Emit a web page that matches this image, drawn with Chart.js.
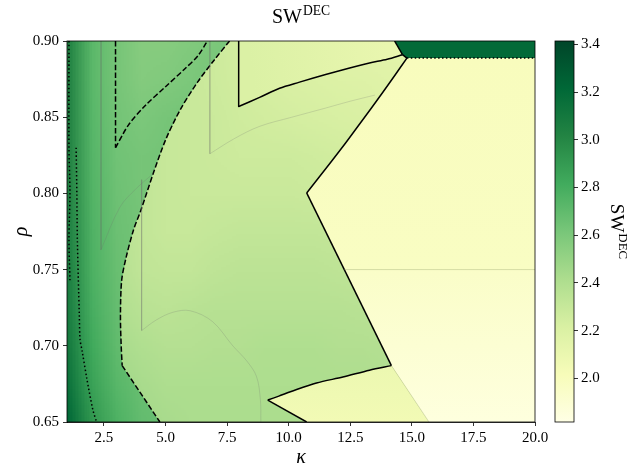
<!DOCTYPE html>
<html><head><meta charset="utf-8">
<script src="https://cdn.jsdelivr.net/npm/chart.js@4/dist/chart.umd.min.js"></script>
<style>html,body{margin:0;padding:0;background:#fff;}</style>
</head><body>
<canvas id="c" width="634" height="476"></canvas>
<script>
// ---------- data ----------
const kappaSamples = [1,2,3,4,5,6,7,8,9,10,11,12,13,14,15,16,17,18,19,20];
const rhoSamples = [0.90,0.875,0.85,0.825,0.80,0.775,0.75,0.725,0.70,0.675,0.65];
// SW^DEC field right of the main dashed contour (rows: rho top->bottom, cols: kappa)
const mainField = [
 [2.45,2.42,2.38,2.34,2.31,2.29,2.27,2.24,2.21,2.19,2.17,2.16,2.15,2.14,2.13,2.12,2.12,2.12,2.12,2.12],
 [2.45,2.42,2.38,2.34,2.31,2.29,2.27,2.25,2.23,2.21,2.20,2.19,2.18,2.17,2.16,2.15,2.15,2.15,2.15,2.15],
 [2.45,2.42,2.38,2.33,2.30,2.29,2.28,2.26,2.25,2.24,2.23,2.22,2.21,2.19,2.18,2.17,2.17,2.17,2.17,2.17],
 [2.45,2.42,2.37,2.32,2.30,2.29,2.28,2.27,2.27,2.27,2.26,2.25,2.24,2.22,2.20,2.19,2.19,2.19,2.19,2.19],
 [2.45,2.42,2.37,2.32,2.30,2.29,2.29,2.29,2.29,2.29,2.28,2.27,2.26,2.25,2.23,2.21,2.21,2.21,2.21,2.21],
 [2.45,2.42,2.37,2.32,2.30,2.30,2.31,2.32,2.32,2.32,2.32,2.31,2.30,2.28,2.26,2.24,2.24,2.24,2.24,2.24],
 [2.45,2.42,2.38,2.33,2.32,2.32,2.34,2.35,2.35,2.35,2.35,2.34,2.33,2.31,2.29,2.27,2.27,2.27,2.27,2.27],
 [2.47,2.44,2.40,2.36,2.35,2.36,2.37,2.37,2.37,2.37,2.37,2.37,2.36,2.35,2.32,2.30,2.30,2.30,2.30,2.30],
 [2.50,2.47,2.43,2.40,2.38,2.38,2.39,2.39,2.40,2.40,2.40,2.39,2.39,2.38,2.35,2.33,2.33,2.33,2.33,2.33],
 [2.52,2.49,2.46,2.43,2.41,2.41,2.41,2.41,2.41,2.41,2.41,2.41,2.41,2.40,2.37,2.35,2.35,2.35,2.35,2.35],
 [2.55,2.52,2.48,2.45,2.43,2.42,2.42,2.42,2.42,2.42,2.42,2.42,2.42,2.41,2.38,2.37,2.37,2.37,2.37,2.37]
];
// field left of the main dashed contour
const leftKappaSamples = [1,2,3,4,5,6,7,8];
const leftField = [
 [3.04,2.72,2.62,2.56,2.56,2.58,2.60,2.61],
 [3.04,2.72,2.62,2.57,2.58,2.60,2.62,2.62],
 [3.04,2.73,2.63,2.60,2.62,2.63,2.63,2.63],
 [3.04,2.74,2.64,2.62,2.63,2.63,2.63,2.63],
 [3.04,2.75,2.65,2.62,2.63,2.63,2.63,2.63],
 [3.05,2.76,2.66,2.63,2.63,2.63,2.63,2.63],
 [3.06,2.77,2.67,2.63,2.63,2.63,2.63,2.63],
 [3.07,2.79,2.68,2.64,2.64,2.64,2.64,2.64],
 [3.10,2.82,2.70,2.65,2.65,2.65,2.65,2.65],
 [3.15,2.86,2.73,2.67,2.66,2.66,2.66,2.66],
 [3.22,2.92,2.77,2.69,2.67,2.67,2.67,2.67]
];
// contour lines [kappa, rho]
const lineD1Vert = [[2.97,0.90],[2.97,0.830]];
const lineD1Curve = [[2.97,0.830],[3.5,0.845],[4.2,0.858],[5.0,0.870],[5.8,0.882],[6.3,0.890],[6.7,0.90]];
const lineD2Curve = [[7.6,0.90],[7.0,0.888],[6.3,0.873],[5.6,0.855],[5.0,0.835],[4.5,0.813],[4.0,0.789],[3.7,0.776],[3.4,0.758],[3.22,0.743],[3.17,0.72],[3.2,0.70],[3.24,0.687]];
const lineD2Low = [[3.24,0.687],[4.77,0.65]];
const lineDot1 = [[1.08,0.90],[1.08,0.83],[1.12,0.80],[1.08,0.77],[1.12,0.743]];
const lineDot2 = [[1.37,0.830],[1.40,0.80],[1.42,0.77],[1.50,0.72],[1.53,0.704],[1.61,0.697],[1.81,0.678],[2.05,0.658],[2.2,0.65]];
const lineAVert = [[7.97,0.90],[7.97,0.857]];
const lineACurve = [[7.97,0.857],[8.82,0.863],[9.63,0.869],[10.44,0.873],[11.5,0.878],[12.4,0.882],[13.28,0.8856],[14.0,0.888],[14.62,0.891]];
const lineJoin = [[14.62,0.891],[14.80,0.8888]];
const lineBCurve = [[14.80,0.8888],[14.32,0.8777],[13.83,0.8665],[13.33,0.8554],[12.82,0.8442],[12.31,0.8331],[11.78,0.8219],[11.24,0.8108],[10.73,0.8003]];
const lineBLow = [[10.73,0.8003],[14.17,0.687]];
const lineWedgeTop = [[14.17,0.687],[13.28,0.684],[12.2,0.6795],[11.13,0.6756],[10.1,0.670],[9.6,0.667],[9.15,0.6644]];
const lineWedgeLow = [[9.15,0.6644],[10.73,0.65]];
const lineRectEdge = [[14.3,0.90],[14.62,0.891]];
const lineRectBottom = [[14.80,0.8888],[20,0.8888]];
const faintAVert = [[2.38,0.90],[2.38,0.763]];
const faintACurve = [[2.38,0.763],[3.15,0.791],[3.8,0.803],[4.5,0.813]];
const faintBVert = [[4.03,0.809],[4.03,0.710]];
const faintBArc = [[4.03,0.710],[4.63,0.717],[5.3,0.722],[6.0,0.723],[6.9,0.716],[7.73,0.70],[8.3,0.69],[8.69,0.68],[8.85,0.665],[8.87,0.65]];
const faintCVert = [[6.8,0.90],[6.8,0.826]];
const faintCCurve = [[6.8,0.826],[7.8,0.836],[8.82,0.844],[10.13,0.850],[11.5,0.856],[12.5,0.8605],[13.5,0.8645]];
const faintD = [[12.25,0.75],[20,0.75]];
const faintE = [[14.17,0.687],[15.7,0.65]];
// regions bounded by the solid contours [kappa, rho] and their value gradients [kappa, rho, value]
const regionUpper = [[7.97,0.92],[7.97,0.857],[8.82,0.863],[9.63,0.869],[10.44,0.873],[11.5,0.878],[12.4,0.882],[13.28,0.8856],[14.0,0.888],[14.62,0.891],[14.3,0.90],[14.3,0.92]];
const regionUpperGrad = [[8.5,0.88,2.20],[14.0,0.895,2.11]];
const regionRect = [[14.3,0.92],[14.3,0.90],[14.62,0.891],[14.80,0.8888],[20.5,0.8888],[20.5,0.92]];
const regionRectGrad = [[17,0.90,3.20],[17,0.889,3.20]];
const regionRightUp = [[14.80,0.8888],[20.5,0.8888],[20.5,0.75],[12.25,0.75],[10.73,0.8003],[11.24,0.8108],[11.78,0.8219],[12.31,0.8331],[12.82,0.8442],[13.33,0.8554],[13.83,0.8665],[14.32,0.8777]];
const regionRightUpGrad = [[16,0.889,2.00],[16,0.75,1.97]];
const regionRightLow = [[12.25,0.75],[20.5,0.75],[20.5,0.63],[16.5,0.63],[14.17,0.687]];
const regionRightLowGrad = [[16,0.75,1.95],[16,0.65,1.85]];
const regionWedge = [[14.17,0.687],[13.28,0.684],[12.2,0.6795],[11.13,0.6756],[10.1,0.670],[9.6,0.667],[9.15,0.6644],[10.73,0.65],[12.9,0.63],[16.5,0.63]];
const regionWedgeGrad = [[12,0.685,2.09],[12,0.65,2.05]];
// ticks
const xTicks = [2.5,5.0,7.5,10.0,12.5,15.0,17.5,20.0];
const yTicks = [0.65,0.70,0.75,0.80,0.85,0.90];
const cbarTicks = [2.0,2.2,2.4,2.6,2.8,3.0,3.2,3.4];
const vMin = 1.817, vMax = 3.414;
const titleMain = 'SW', titleSup = 'DEC';

// ---------- colour map (YlGn) ----------
const YlGn = ['#ffffe5','#f7fcb9','#d9f0a3','#addd8e','#78c679','#41ab5d','#238443','#006837','#004529']
  .map(h => [parseInt(h.slice(1,3),16),parseInt(h.slice(3,5),16),parseInt(h.slice(5,7),16)]);
function cmapRGB(v){
  let t = (v - vMin) / (vMax - vMin); t = Math.max(0, Math.min(1, t));
  const s = t * 8, i = Math.min(7, Math.floor(s)), f = s - i;
  return [0,1,2].map(k => Math.round(YlGn[i][k] + (YlGn[i+1][k]-YlGn[i][k]) * f));
}
function cmap(v){ const c = cmapRGB(v); return `rgb(${c[0]},${c[1]},${c[2]})`; }

function fieldImage(field){
  const rows = field.length, cols = field[0].length;
  const c = document.createElement('canvas'); c.width = cols; c.height = rows;
  const g = c.getContext('2d'); const img = g.createImageData(cols, rows);
  for (let r = 0; r < rows; r++) for (let k = 0; k < cols; k++) {
    const col = cmapRGB(field[r][k]); const o = (r*cols + k) * 4;
    img.data[o] = col[0]; img.data[o+1] = col[1]; img.data[o+2] = col[2]; img.data[o+3] = 255;
  }
  g.putImageData(img, 0, 0); return c;
}
function drawField(ctx, xs, ys, field, kap){
  const img = fieldImage(field);
  const dk = kap[1] - kap[0], dr = rhoSamples[0] - rhoSamples[1];
  const x0 = xs.getPixelForValue(kap[0] - dk/2), x1 = xs.getPixelForValue(kap[kap.length-1] + dk/2);
  const y0 = ys.getPixelForValue(rhoSamples[0] + dr/2), y1 = ys.getPixelForValue(rhoSamples[rhoSamples.length-1] - dr/2);
  ctx.imageSmoothingEnabled = true; ctx.imageSmoothingQuality = 'low';
  ctx.drawImage(img, x0, y0, x1 - x0, y1 - y0);
}
function polyPath(ctx, xs, ys, pts){
  ctx.beginPath();
  pts.forEach((p, i) => { const X = xs.getPixelForValue(p[0]), Y = ys.getPixelForValue(p[1]); i ? ctx.lineTo(X, Y) : ctx.moveTo(X, Y); });
  ctx.closePath();
}
function fillRegion(ctx, xs, ys, pts, grad){
  polyPath(ctx, xs, ys, pts);
  const g = ctx.createLinearGradient(xs.getPixelForValue(grad[0][0]), ys.getPixelForValue(grad[0][1]), xs.getPixelForValue(grad[1][0]) + 0.01, ys.getPixelForValue(grad[1][1]) + 0.01);
  g.addColorStop(0, cmap(grad[0][2])); g.addColorStop(1, cmap(grad[1][2]));
  ctx.fillStyle = g; ctx.fill();
}
function drawSupText(ctx, main, sup, x, y, align, size){
  ctx.font = `${size}px "Liberation Serif", serif`;
  const w1 = ctx.measureText(main).width;
  ctx.font = `${size*0.68}px "Liberation Serif", serif`;
  const w2 = ctx.measureText(sup).width;
  const total = w1 + 1 + w2;
  const sx = align === 'center' ? x - total/2 : x;
  ctx.textAlign = 'left'; ctx.textBaseline = 'alphabetic'; ctx.fillStyle = '#000';
  ctx.font = `${size}px "Liberation Serif", serif`; ctx.fillText(main, sx, y);
  ctx.font = `${size*0.68}px "Liberation Serif", serif`; ctx.fillText(sup, sx + w1 + 1, y - size*0.42);
}

const heatPlugin = {
  id: 'heat',
  beforeDatasetsDraw(chart){
    const {ctx, chartArea: a, scales: {x, y}} = chart;
    ctx.save();
    ctx.beginPath(); ctx.rect(a.left, a.top, a.width, a.height); ctx.clip();
    drawField(ctx, x, y, mainField, kappaSamples);
    ctx.save();
    polyPath(ctx, x, y, [[0.5,0.92],[7.7,0.92]].concat(lineD2Curve).concat(lineD2Low).concat([[5.0,0.62],[0.5,0.62]]));
    ctx.clip();
    drawField(ctx, x, y, leftField, leftKappaSamples);
    ctx.restore();
    fillRegion(ctx, x, y, regionUpper, regionUpperGrad);
    fillRegion(ctx, x, y, regionRightUp, regionRightUpGrad);
    fillRegion(ctx, x, y, regionRightLow, regionRightLowGrad);
    fillRegion(ctx, x, y, regionWedge, regionWedgeGrad);
    fillRegion(ctx, x, y, regionRect, regionRectGrad);
    ctx.restore();
  },
  afterDraw(chart){
    const {ctx, chartArea: a, scales: {cbar}} = chart;
    ctx.save();
    ctx.strokeStyle = '#000'; ctx.lineWidth = 0.8;
    ctx.strokeRect(a.left, a.top, a.width, a.height);
    const bx1 = cbar.left, bx0 = bx1 - 19;
    const yb = cbar.getPixelForValue(vMin), yt = cbar.getPixelForValue(vMax);
    const g = ctx.createLinearGradient(0, yb, 0, yt);
    YlGn.forEach((c, i) => g.addColorStop(i/8, `rgb(${c[0]},${c[1]},${c[2]})`));
    ctx.fillStyle = g; ctx.fillRect(bx0, yt, bx1 - bx0, yb - yt);
    ctx.strokeRect(bx0, yt, bx1 - bx0, yb - yt);
    drawSupText(ctx, titleMain, titleSup, (a.left + a.right)/2, 23, 'center', 20);
    ctx.translate(611, (yt + yb)/2); ctx.rotate(Math.PI/2);
    drawSupText(ctx, titleMain, titleSup, 0, 0, 'center', 19);
    ctx.restore();
  }
};

const toXY = pts => pts.map(p => ({x: p[0], y: p[1]}));
const ln = (pts, o) => Object.assign({data: toXY(pts), showLine: true, pointRadius: 0, pointHoverRadius: 0, fill: false,
  borderColor: '#000', borderWidth: 1.5, tension: 0, borderCapStyle: 'butt', borderJoinStyle: 'round'}, o);
const smooth = {tension: 0.3};
const faint = {borderColor: 'rgba(110,110,110,0.28)', borderWidth: 0.8};
const faintS = {borderColor: 'rgba(110,110,110,0.28)', borderWidth: 0.8, tension: 0.35};
const faintY = {borderColor: 'rgba(170,170,120,0.35)', borderWidth: 1};
const dashed = {borderDash: [5.5, 2.4]};
const dashedS = {borderDash: [5.5, 2.4], tension: 0.3};
const dotted = {borderDash: [1.5, 2.4]};
const dottedS = {borderDash: [1.5, 2.4], tension: 0.3};

const tickFont = {family: '"Liberation Serif", serif', size: 15};
new Chart(document.getElementById('c'), {
  type: 'scatter',
  data: { datasets: [
    ln(faintAVert, faint), ln(faintACurve, faintS), ln(faintBVert, faint), ln(faintBArc, faintS),
    ln(faintCVert, faint), ln(faintCCurve, faintS), ln(faintD, faintY), ln(faintE, faintY),
    ln(lineD1Vert, dashed), ln(lineD1Curve, dashedS), ln(lineD2Curve, dashedS), ln(lineD2Low, dashed),
    ln(lineDot1, dottedS), ln(lineDot2, dottedS),
    ln(lineAVert, {}), ln(lineACurve, smooth), ln(lineJoin, {}), ln(lineBCurve, smooth), ln(lineBLow, {}),
    ln(lineWedgeTop, smooth), ln(lineWedgeLow, {}), ln(lineRectEdge, {}), ln(lineRectBottom, dotted)
  ]},
  options: {
    responsive: false, animation: false, devicePixelRatio: 1,
    layout: {padding: {top: 41, left: 0, right: 0, bottom: 0}},
    plugins: {legend: {display: false}, tooltip: {enabled: false}, title: {display: false}},
    scales: {
      x: {
        type: 'linear', min: 1, max: 20, position: 'bottom',
        afterBuildTicks: s => { s.ticks = xTicks.map(v => ({value: v})); },
        afterFit: s => { s.height = 54; },
        ticks: {callback: v => Number(v).toFixed(1), font: tickFont, color: '#000', padding: 3, maxRotation: 0, autoSkip: false},
        grid: {drawOnChartArea: false, drawTicks: true, tickLength: 4, tickColor: '#000', tickWidth: 0.8},
        border: {display: true, color: '#000', width: 0.8},
        title: {display: true, text: 'κ', color: '#000', font: {family: '"Liberation Serif", serif', style: 'italic', size: 20}, padding: {top: 0, bottom: 6}}
      },
      y: {
        type: 'linear', min: 0.65, max: 0.90, position: 'left',
        afterBuildTicks: s => { s.ticks = yTicks.map(v => ({value: v})); },
        afterFit: s => { s.width = 67; },
        ticks: {callback: v => Number(v).toFixed(2), font: tickFont, color: '#000', padding: 4, autoSkip: false},
        grid: {drawOnChartArea: false, drawTicks: true, tickLength: 4, tickColor: '#000', tickWidth: 0.8},
        border: {display: true, color: '#000', width: 0.8},
        title: {display: true, text: 'ρ', color: '#000', font: {family: '"Liberation Serif", serif', style: 'italic', size: 20}, padding: {top: 10, bottom: 0}}
      },
      gap: {
        type: 'linear', position: 'right', weight: 1, display: true,
        afterFit: s => { s.width = 39; },
        ticks: {display: false}, grid: {display: false, drawTicks: false}, border: {display: false}
      },
      cbar: {
        type: 'linear', position: 'right', weight: 2, min: vMin, max: vMax,
        afterBuildTicks: s => { s.ticks = cbarTicks.map(v => ({value: v})); },
        afterFit: s => { s.width = 60; },
        ticks: {callback: v => Number(v).toFixed(1), font: tickFont, color: '#000', padding: 3, autoSkip: false},
        grid: {drawOnChartArea: false, drawTicks: true, tickLength: 4, tickColor: '#000', tickWidth: 0.8},
        border: {display: false}
      }
    }
  },
  plugins: [heatPlugin]
});
</script>
</body></html>
